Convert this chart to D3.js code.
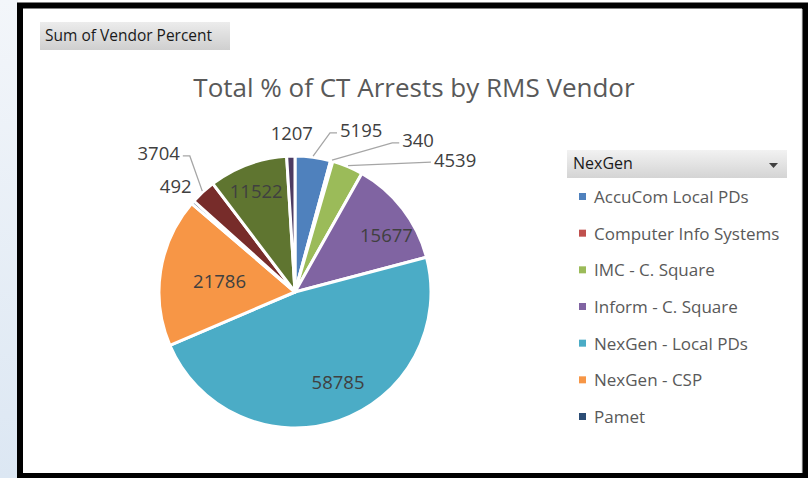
<!DOCTYPE html>
<html>
<head>
<meta charset="utf-8">
<script src="https://cdn.jsdelivr.net/npm/d3@7"></script>
<style>
  html, body { margin: 0; padding: 0; background: #fff; }
  svg { display: block; }
  text { font-family: "Open Sans", "Noto Sans", sans-serif; }
</style>
</head>
<body>
<div id="chart"></div>
<script>
// data, in pivot order (Excel draws slices clockwise from 12 o'clock)
const vendors = ['AccuCom Local PDs', 'Computer Info Systems', 'IMC - C. Square', 'Inform - C. Square',
  'NexGen - Local PDs', 'NexGen - CSP', 'Pamet', 'Vendor 8', 'Vendor 9', 'Vendor 10'];
const arrests = [5195, 340, 4539, 15677, 58785, 21786, 492, 3704, 11522, 1207];
const legendItems = vendors.slice(0, 7);   // legend box is cut off after Pamet
const colors = ['#4f81bd', '#c0504d', '#9bbb59', '#8064a2', '#4bacc6', '#f79646',
  '#2c4d75', '#772c2a', '#5f7530', '#4d3b62'];

const chartTitle = 'Total % of CT Arrests by RMS Vendor';
const fieldButton = 'Sum of Vendor Percent';
const legendHeader = 'NexGen';

// label placement (Excel "best fit"): inside labels, or outside with / without leader
const labelLayout = [
  {kind: 'lead', elbowA: 12.4, elbowR: 163, side: 1},
  {kind: 'lead', elbowA: 33.1, elbowR: 178, side: 1},
  {kind: 'lead', elbowA: 46.3, elbowR: 188, side: 1, straight: true},
  {kind: 'in', a: 6, r: 0.79},
  {kind: 'in', a: -6.4, r: 0.74},
  {kind: 'in', a: -1, r: 0.56},
  {kind: 'out', a: 0.1, r: 159},
  {kind: 'lead', elbowA: 322.3, elbowR: 172, side: -1},
  {kind: 'in', a: -0.8, r: 0.79},
  {kind: 'out', a: 0.6, r: 159}
];

const width = 808, height = 478;
const cx = 295, cy = 292, R = 136;

const svg = d3.select('#chart').append('svg')
    .attr('width', width)
    .attr('height', height);

const defs = svg.append('defs');
const g1 = defs.append('linearGradient').attr('id', 'btnGrad').attr('x1', 0).attr('y1', 0).attr('x2', 0).attr('y2', 1);
g1.append('stop').attr('offset', '0%').attr('stop-color', '#ececec');
g1.append('stop').attr('offset', '100%').attr('stop-color', '#cfcfcf');
const g2 = defs.append('linearGradient').attr('id', 'hdrGrad').attr('x1', 0).attr('y1', 0).attr('x2', 0).attr('y2', 1);
g2.append('stop').attr('offset', '0%').attr('stop-color', '#f2f2f2');
g2.append('stop').attr('offset', '100%').attr('stop-color', '#d4d4d4');
const g3 = defs.append('linearGradient').attr('id', 'sideGrad').attr('x1', 0).attr('y1', 0).attr('x2', 0).attr('y2', 1);
g3.append('stop').attr('offset', '0%').attr('stop-color', '#f3f6fa');
g3.append('stop').attr('offset', '100%').attr('stop-color', '#dce7f3');

// slide background at left and the black frame round the chart
svg.append('rect').attr('x', 0).attr('y', 0).attr('width', 18).attr('height', height).attr('fill', 'url(#sideGrad)');
svg.append('rect')
    .attr('x', 20).attr('y', 5.5)
    .attr('width', 785).attr('height', 470.5)
    .attr('fill', '#fff')
    .attr('stroke', '#000')
    .attr('stroke-width', 6);
svg.append('line').attr('x1', 802).attr('x2', 802).attr('y1', 9).attr('y2', 473)
    .attr('stroke', '#d9d9d9').attr('stroke-width', 1);

// pivot field button
svg.append('rect')
    .attr('x', 40).attr('y', 22).attr('width', 190).attr('height', 28)
    .attr('fill', 'url(#btnGrad)');
svg.append('text')
    .attr('x', 45).attr('y', 41)
    .attr('font-size', 15.5)
    .attr('fill', '#1a1a1a')
    .text(fieldButton);

// title
svg.append('text')
    .attr('x', 414).attr('y', 97)
    .attr('text-anchor', 'middle')
    .attr('font-size', 26)
    .attr('fill', '#595959')
    .text(chartTitle);

// pie
const pie = d3.pie().sort(null).value(d => d);
const arcs = pie(arrests);
const arc = d3.arc().innerRadius(0).outerRadius(R);

const chart = svg.append('g').attr('transform', `translate(${cx},${cy})`);

chart.selectAll('.slice')
    .data(arcs)
  .join('path')
    .attr('class', 'slice')
    .attr('d', arc)
    .attr('fill', (d, i) => colors[i])
    .attr('stroke', '#fff')
    .attr('stroke-width', 3)
    .attr('stroke-linejoin', 'round');

const toRad = a => a * Math.PI / 180;
const polar = (aRad, r) => [r * Math.sin(aRad), -r * Math.cos(aRad)];
const midA = d => (d.startAngle + d.endAngle) / 2;

arcs.forEach((d, i) => {
  const lay = labelLayout[i];
  const m = midA(d);
  const label = chart.append('text')
      .attr('font-size', 18.5)
      .attr('fill', '#404040')
      .attr('dy', '0.35em')
      .text(d3.format('d')(d.value));

  if (lay.kind === 'in') {
    const [x, y] = polar(m + toRad(lay.a), lay.r * R);
    label.attr('x', x).attr('y', y).attr('text-anchor', 'middle');
  } else if (lay.kind === 'out') {
    const [x, y] = polar(m + toRad(lay.a), lay.r);
    label.attr('x', x).attr('y', y).attr('text-anchor', 'middle');
  } else {
    const p0 = polar(m, R + 1);
    const p1 = polar(toRad(lay.elbowA), lay.elbowR);
    const p2 = lay.straight ? p1 : [p1[0] + 7 * lay.side, p1[1]];
    chart.append('polyline')
        .attr('points', [p0, p1, p2].map(p => p.join(',')).join(' '))
        .attr('fill', 'none')
        .attr('stroke', '#a6a6a6')
        .attr('stroke-width', 1.3);
    label.attr('x', p2[0] + 3 * lay.side)
        .attr('y', p2[1] - 2)
        .attr('text-anchor', lay.side > 0 ? 'start' : 'end');
  }
});

// legend
const legend = svg.append('g').attr('transform', 'translate(567,150)');
legend.append('rect')
    .attr('width', 220).attr('height', 28)
    .attr('fill', 'url(#hdrGrad)');
legend.append('text')
    .attr('x', 6).attr('y', 19)
    .attr('font-size', 16)
    .attr('fill', '#1a1a1a')
    .text(legendHeader);
legend.append('path')
    .attr('d', 'M202,13 L211,13 L206.5,18 Z')
    .attr('fill', '#404040');

const ly = d3.scalePoint()
    .domain(legendItems)
    .range([47, 267]);

const items = legend.selectAll('.legend-item')
    .data(legendItems)
  .join('g')
    .attr('class', 'legend-item')
    .attr('transform', d => `translate(0,${ly(d)})`);

items.append('rect')
    .attr('x', 12).attr('y', -4)
    .attr('width', 7).attr('height', 7)
    .attr('fill', (d, i) => colors[i]);

items.append('text')
    .attr('x', 27).attr('y', 0)
    .attr('dy', '0.35em')
    .attr('font-size', 17)
    .attr('fill', '#595959')
    .text(d => d);
</script>
</body>
</html>
